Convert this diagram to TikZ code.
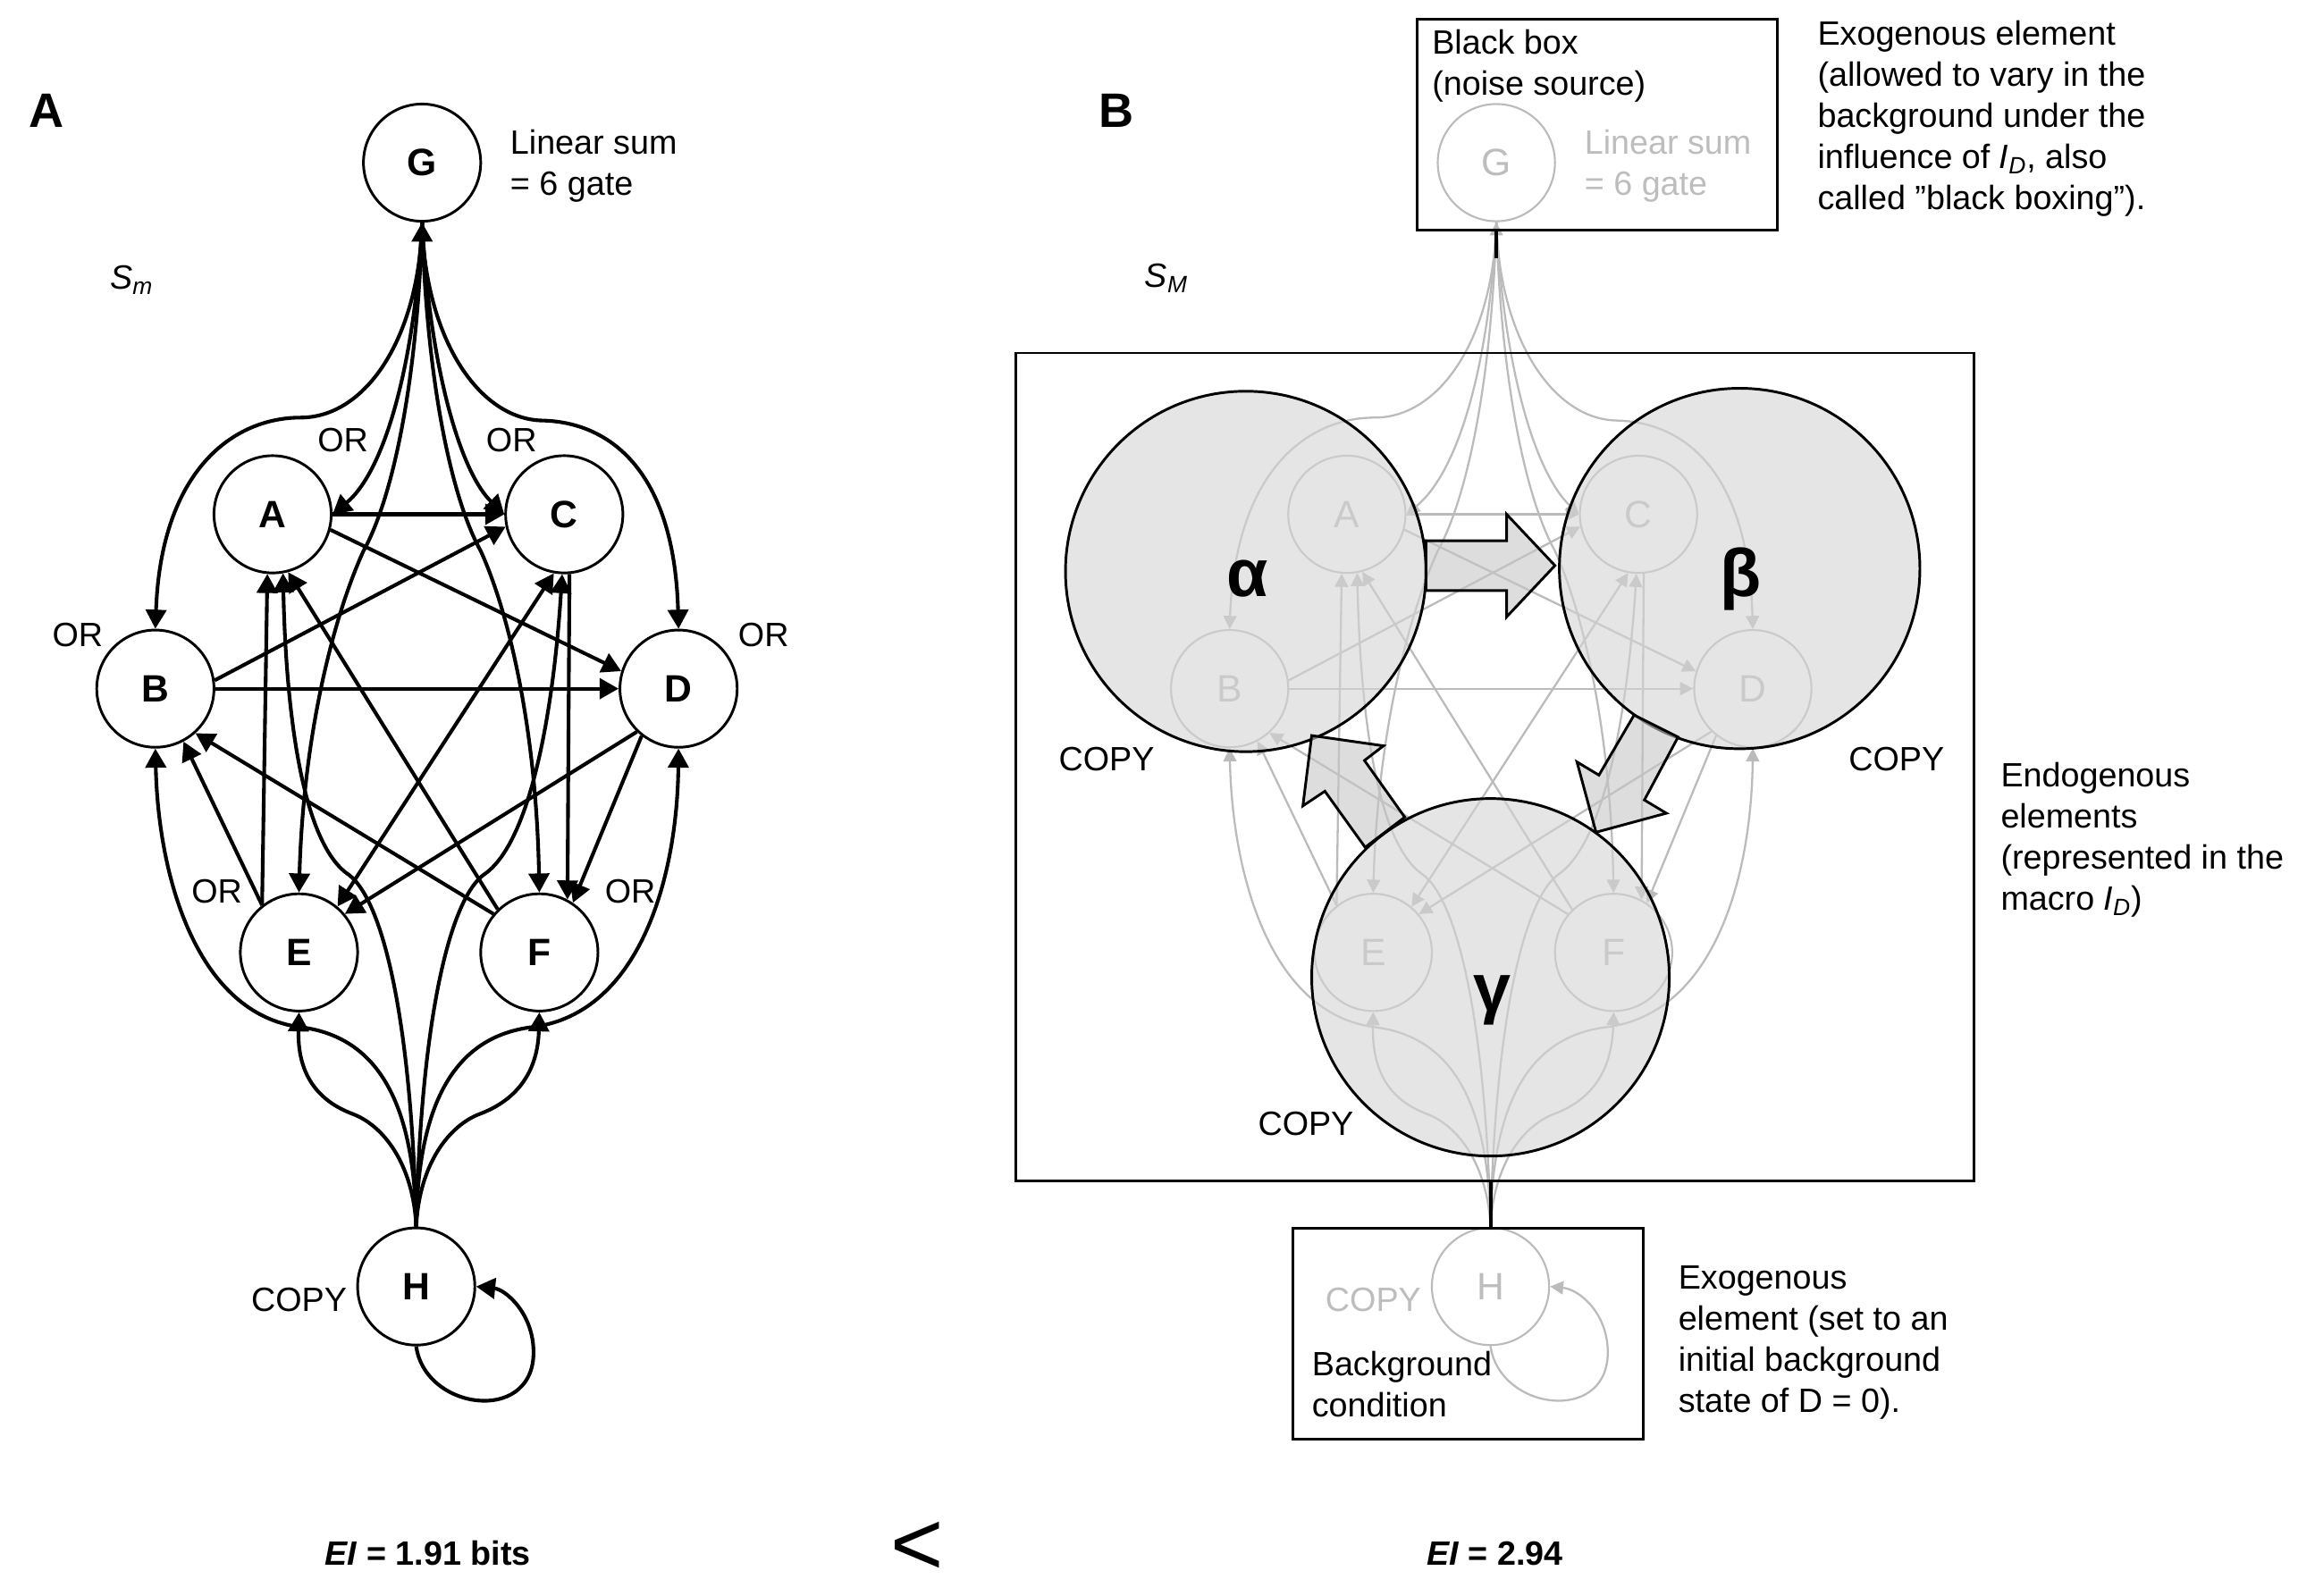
\documentclass[tikz,border=0pt]{standalone}
\usepackage{fontspec}
\setmainfont{Liberation Sans}
\usetikzlibrary{arrows.meta}
\newcommand\myfs[1]{\fontsize{#1}{#1}\selectfont}
\newcommand\myID{\textit{I}\textsubscript{\textit{D}}}
\definecolor{netgray}{HTML}{BBBBBB}
\definecolor{txtgray}{HTML}{BDBDBD}
\definecolor{bigfill}{HTML}{D4D4D4}
\definecolor{arrfill}{HTML}{C6C6C6}
\tikzset{
 anode/.style={circle, draw=black, line width=1.8pt, fill=white, minimum size=80pt, inner sep=0pt, font=\myfs{26}\bfseries},
 aedge/.style={draw=black, line width=2.5pt, -{Triangle[length=13pt,width=14pt]}},
 aedgeb/.style={draw=black, line width=2.5pt, {Triangle[length=13pt,width=14pt]}-{Triangle[length=13pt,width=14pt]}},
 bnode/.style={circle, draw=netgray, line width=1.3pt, minimum size=80pt, inner sep=0pt, text=txtgray, font=\myfs{26}},
 bedge/.style={draw=netgray, line width=1.4pt, -{Triangle[length=9pt,width=9pt]}},
 bedgeb/.style={draw=netgray, line width=1.4pt, {Triangle[length=9pt,width=9pt]}-{Triangle[length=9pt,width=9pt]}},
 txt/.style={font=\myfs{23}, inner sep=0pt, anchor=base west},
 ctxt/.style={font=\myfs{23}, inner sep=0pt, anchor=base},
 macrocirc/.style={circle, draw=black, line width=1.8pt, fill=bigfill, fill opacity=0.6, draw opacity=1, minimum size=246pt, inner sep=0pt},
 fatarrow/.style={draw=black, line width=1.8pt, fill=arrfill, fill opacity=0.6, line join=miter},
 framebox/.style={draw=black, line width=1.8pt},
 greek/.style={font=\myfs{46}\bfseries, inner sep=0pt, anchor=base},
 panel/.style={font=\myfs{33}\bfseries, inner sep=0pt, anchor=base},
}
% #1 prefix, #2 node style, #3 edge style, #4 two-headed edge style
\newcommand\drawnet[4]{%
 \node[#2] (#1G) at (288,111) {G};
 \node[#2] (#1A) at (186,351) {A};
 \node[#2] (#1C) at (385,351) {C};
 \node[#2] (#1B) at (106,470) {B};
 \node[#2] (#1D) at (463,470) {D};
 \node[#2] (#1E) at (204,650) {E};
 \node[#2] (#1F) at (368,650) {F};
 \node[#2] (#1H) at (284,878) {H};
 \coordinate (#1Gin) at (288,174);
 \draw[#3] (#1Gin) -- (#1G.south);
 % fan from G
 \draw[#3] (#1G.south) .. controls (286,230) and (250,285) .. (205,285) .. controls (160,285) and (110,320) .. (#1B.north);
 \draw[#3] (#1G.south) .. controls (290,230) and (326,286) .. (370,287) .. controls (415,288) and (460,320) .. (#1D.north);
 \draw[#3] (#1G.south) .. controls (283,250) and (262,322) .. (#1A.east);
 \draw[#3] (#1G.south) .. controls (293,250) and (314,322) .. (#1C.west);
 \draw[#3] (#1G.south) .. controls (285,260) and (268,340) .. (248,376) .. controls (228,420) and (207,500) .. (#1E.north);
 \draw[#3] (#1G.south) .. controls (291,260) and (308,340) .. (328,376) .. controls (348,420) and (366,500) .. (#1F.north);
 % straight links
 \draw[#3] (#1A.east) -- (#1C.west);
 \draw[#3] (#1A.-15) -- (#1D.163);
 \draw[#3] (#1B.8) -- (#1C.192);
 \draw[#3] (#1B.east) -- (#1D.west);
 \draw[#3] (#1E.128) -- (#1A.-95);
 \draw[#3] (#1E.128) -- (#1B.-62);
 \draw[#3] (#1F.134) -- (#1A.-75);
 \draw[#3] (#1F.140) -- (#1B.-48);
 \draw[#4] (#1E.50) -- (#1C.-100);
 \draw[#3] (#1C.-85) -- (#1F.62);
 \draw[#3] (#1D.226) -- (#1E.40);
 \draw[#3] (#1D.232) -- (#1F.56);
 % fan from H
 \draw[#3] (#1H.north) .. controls (281,700) and (262,615) .. (238,597) .. controls (205,575) and (195,480) .. (#1A.-80);
 \draw[#3] (#1H.north) .. controls (287,700) and (306,615) .. (330,597) .. controls (363,575) and (378,480) .. (#1C.-92);
 \draw[#3] (#1H.north) .. controls (283,760) and (262,708) .. (205,701) .. controls (135,692) and (108,600) .. (#1B.south);
 \draw[#3] (#1H.north) .. controls (285,760) and (306,708) .. (363,701) .. controls (436,692) and (462,600) .. (#1D.south);
 \draw[#3] (#1H.north) .. controls (282,795) and (262,768) .. (240,760) .. controls (214,750) and (203,730) .. (#1E.south);
 \draw[#3] (#1H.north) .. controls (286,795) and (306,768) .. (328,760) .. controls (354,750) and (367,730) .. (#1F.south);
 % self loop
 \draw[#3] (#1H.south) .. controls (290,962) and (362,972) .. (364,925) .. controls (365,897) and (345,880) .. (#1H.east);
}
\begin{document}
\begin{tikzpicture}[x=1pt,y=-1pt]
\useasboundingbox (0,0) rectangle (1568,1089);
% ================= Panel A =================
\node[panel] (labA) at (32,87) {A};
\drawnet{a}{anode}{aedge}{aedgeb}
\node[txt] (alin1) at (348,105) {Linear sum};
\node[txt] (alin2) at (348,133) {= 6 gate};
\node[txt] (asm) at (75,197) {\textit{S}\textsubscript{\textit{m}}};
\node[ctxt] (orA) at (234,308) {OR};
\node[ctxt] (orC) at (349,308) {OR};
\node[ctxt] (orB) at (53,441) {OR};
\node[ctxt] (orD) at (521,441) {OR};
\node[ctxt] (orE) at (148,616) {OR};
\node[ctxt] (orF) at (430,616) {OR};
\node[ctxt] (acopy) at (204,895) {COPY};
\node[ctxt, font=\myfs{23}\bfseries] (eia) at (292,1068) {\textit{EI} = 1.91 bits};
\node[ctxt, font=\myfs{62}] (lt) at (626,1075) {<};
% ================= Panel B =================
\node[panel] (labB) at (762,87) {B};
\node[txt] (bsm) at (781,196) {\textit{S}\textsubscript{\textit{M}}};
\begin{scope}[shift={(733,0)}]
 \drawnet{b}{bnode}{bedge}{bedgeb}
 \node[txt, text=txtgray] (blin1) at (348,105) {Linear sum};
 \node[txt, text=txtgray] (blin2) at (348,133) {= 6 gate};
 \node[ctxt, text=txtgray] (bcopyH) at (204,895) {COPY};
\end{scope}
% dark convergence segments
\coordinate (gfanA) at (1021,157);
\coordinate (gfanB) at (1021,176);
\draw[line width=2pt] (gfanA) -- (gfanB);
\coordinate (hfanA) at (1017,806);
\coordinate (hfanB) at (1017,838);
\draw[line width=2.4pt] (hfanA) -- (hfanB);
% macro elements
\node[macrocirc] (alpha) at (850,390) {};
\node[macrocirc] (beta) at (1187,388) {};
\node[macrocirc, minimum size=244pt] (gamma) at (1017,667) {};
\node[greek] (lalpha) at (851,407) {α};
\node[greek] (lbeta) at (1188,407) {β};
\node[greek] (lgamma) at (1018,690) {γ};
% fat arrows
\draw[fatarrow] (973,369) -- (1028,369) -- (1028,351) -- (1061,386) -- (1028,421) -- (1028,403) -- (973,403) -- cycle;
\draw[fatarrow] (958.5,557.7) -- (931,519) -- (944,509) -- (895,502) -- (889,550) -- (904,540) -- (931.5,578.3) -- cycle;
\draw[fatarrow] (1115,488) -- (1091,529) -- (1076,520) -- (1089,568) -- (1137,555) -- (1122,546) -- (1145,503) -- cycle;
% boxes
\draw[framebox] (967,13) rectangle (1213,157);
\draw[framebox, line width=1.6pt] (693,241) rectangle (1347,806);
\draw[framebox] (882,838) rectangle (1121,982);
% labels panel B
\node[ctxt] (cpa) at (755,526) {COPY};
\node[ctxt] (cpb) at (1294,526) {COPY};
\node[ctxt] (cpc) at (891,775) {COPY};
\node[txt] (bb1) at (977,37) {Black box};
\node[txt] (bb2) at (977,65) {(noise source)};
\node[txt] (ex1) at (1240,31) {Exogenous element};
\node[txt] (ex2) at (1240,59) {(allowed to vary in the};
\node[txt] (ex3) at (1240,87) {background under the};
\node[txt] (ex4) at (1240,115) {influence of \myID, also};
\node[txt] (ex5) at (1240,143) {called ”black boxing”).};
\node[txt] (en1) at (1365,537) {Endogenous};
\node[txt] (en2) at (1365,565) {elements};
\node[txt] (en3) at (1365,593) {(represented in the};
\node[txt] (en4) at (1365,621) {macro \myID)};
\node[txt] (bg1) at (895,939) {Background};
\node[txt] (bg2) at (895,967) {condition};
\node[txt] (ey1) at (1145,880) {Exogenous};
\node[txt] (ey2) at (1145,908) {element (set to an};
\node[txt] (ey3) at (1145,936) {initial background};
\node[txt] (ey4) at (1145,964) {state of D = 0).};
\node[ctxt, font=\myfs{23}\bfseries] (eib) at (1020,1068) {\textit{EI} = 2.94};
\end{tikzpicture}
\end{document}
